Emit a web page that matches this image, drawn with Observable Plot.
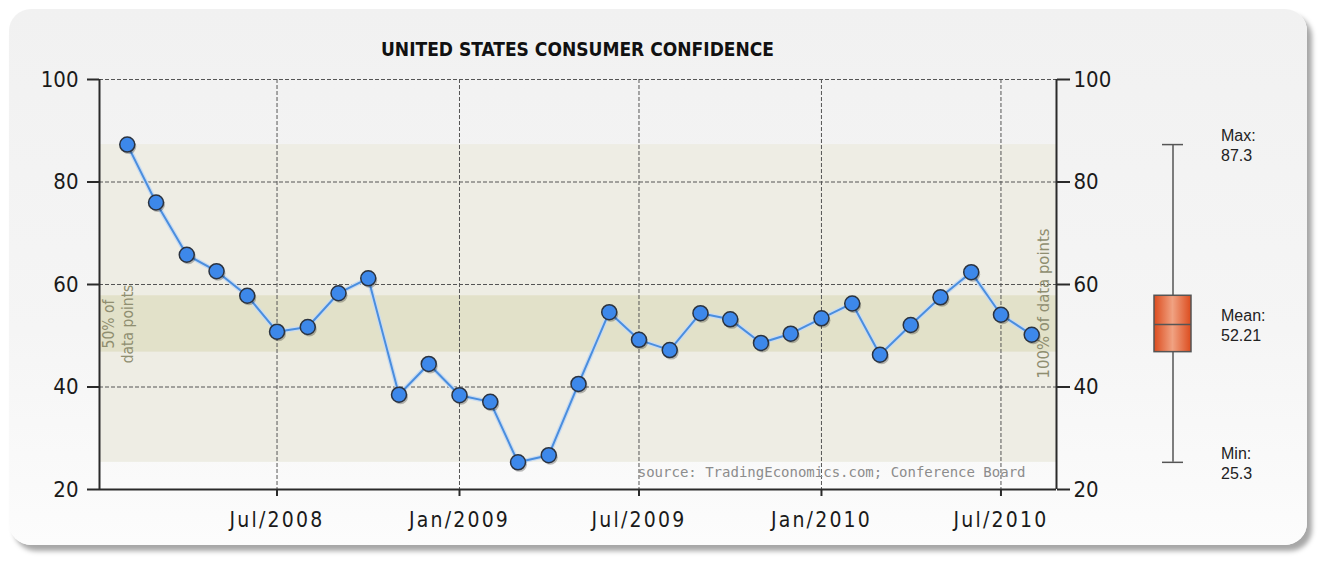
<!DOCTYPE html>
<html><head><meta charset="utf-8">
<script src="https://cdn.jsdelivr.net/npm/d3@7"></script>
<script src="https://cdn.jsdelivr.net/npm/@observablehq/plot@0.6"></script>
<style>
html,body{margin:0;padding:0;background:#fff;}
#wrap{position:relative;width:1323px;height:561px;overflow:hidden;}
#card{position:absolute;left:9px;top:9px;width:1298px;height:536px;border-radius:22px;background:linear-gradient(#f1f1f1,#f5f5f5 60%,#fcfcfc);box-shadow:5px 6px 5px rgba(0,0,0,0.35);}
#title{position:absolute;left:99px;width:957px;top:38px;text-align:center;font:bold 19px "DejaVu Sans Condensed",sans-serif;color:#111;}
#main,#box{position:absolute;top:0;}
#main{left:0;} #box{left:1100px;}
#main [aria-label="x-axis tick label"] text{letter-spacing:2.2px;}
</style></head><body>
<div id="wrap"><div id="card"></div><div id="title">UNITED STATES CONSUMER CONFIDENCE</div><div id="main"></div><div id="box"></div></div>
<script>
// ---- data ----
const months = ["2008-02","2008-03","2008-04","2008-05","2008-06","2008-07","2008-08","2008-09","2008-10","2008-11","2008-12",
  "2009-01","2009-02","2009-03","2009-04","2009-05","2009-06","2009-07","2009-08","2009-09","2009-10","2009-11","2009-12",
  "2010-01","2010-02","2010-03","2010-04","2010-05","2010-06","2010-07","2010-08"];
const values = [87.3, 76.0, 65.8, 62.6, 57.8, 50.8, 51.7, 58.3, 61.2, 38.5, 44.5,
  38.4, 37.1, 25.3, 26.7, 40.6, 54.6, 49.2, 47.2, 54.4, 53.2, 48.6, 50.4,
  53.4, 56.3, 46.3, 52.1, 57.5, 62.4, 54.1, 50.2];
const tickMonths = ["2008-07","2009-01","2009-07","2010-01","2010-07"];
const yTicks = [20, 40, 60, 80, 100];
const gridValues = [40, 60, 80, 100];
const statMin = 25.3, statQ1 = 46.8, statMean = 52.21, statQ3 = 57.8, statMax = 87.3;
const bandLabel50 = "50% of\ndata points";
const bandLabel100 = "100% of data points";
const sourceText = "source: TradingEconomics.com; Conference Board";
const boxKey = "Consumer Confidence";

// ---- build ----
const parse = d3.utcParse("%Y-%m");
const data = months.map((m, i) => ({date: parse(m), value: values[i]}));
const tickDates = tickMonths.map(parse);
const stats = {min: statMin, q1: statQ1, mean: statMean, q3: statQ3, max: statMax};
const xDomain = [new Date(Date.UTC(2008, 0, 4)), new Date(Date.UTC(2010, 7, 26))];
const fmt = d3.utcFormat("%b/%Y");
const axisColor = "#2a2a2a";
const axisFont = "'DejaVu Sans Condensed', sans-serif";

const main = Plot.plot({
  width: 1323, height: 561,
  marginLeft: 99, marginRight: 267, marginTop: 79, marginBottom: 72,
  style: {background: "transparent", fontFamily: axisFont, fontSize: "21px", color: "#1a1a1a", overflow: "visible"},
  x: {type: "utc", domain: xDomain, label: null},
  y: {domain: [20, 100], label: null},
  marks: [
    Plot.rectY([stats], {y1: "min", y2: "max", fill: "#eeede4"}),
    Plot.rectY([stats], {y1: "q1", y2: "q3", fill: "#e2e1c9"}),
    Plot.ruleY(gridValues, {stroke: "#555", strokeDasharray: "4,2", strokeWidth: 1}),
    Plot.ruleX(tickDates, {stroke: "#555", strokeDasharray: "4,2", strokeWidth: 1}),
    Plot.text([bandLabel50], {frameAnchor: "left", y: () => (statQ1 + statQ3) / 2, rotate: -90, dx: 18,
      textAnchor: "middle", lineAnchor: "middle",
      fontSize: 15.5, fontFamily: axisFont, fill: "#8f8e70", lineHeight: 1.25}),
    Plot.text([bandLabel100], {frameAnchor: "right", y: () => (statMin + statMax) / 2, rotate: -90, dx: -13,
      textAnchor: "middle", lineAnchor: "middle",
      fontSize: 16.5, fontFamily: axisFont, fill: "#8f8e70"}),
    Plot.text([sourceText], {frameAnchor: "bottom-right", textAnchor: "end", lineAnchor: "bottom", dx: -31, dy: -13,
      fontSize: 14, fontFamily: "'DejaVu Sans Mono', monospace", fill: "#8c8c8c"}),
    Plot.ruleX([xDomain[0], xDomain[1]], {stroke: axisColor, strokeWidth: 2}),
    Plot.ruleY([20], {stroke: axisColor, strokeWidth: 2}),
    Plot.axisY(yTicks, {anchor: "left", tickSize: 12, tickPadding: 9, strokeWidth: 2, stroke: axisColor, label: null,
      fontSize: 22, fontFamily: axisFont, fill: "#1a1a1a"}),
    Plot.axisY(yTicks, {anchor: "right", tickSize: 13, tickPadding: 4, strokeWidth: 2, stroke: axisColor, label: null,
      fontSize: 22, fontFamily: axisFont, fill: "#1a1a1a"}),
    Plot.axisX(tickDates, {anchor: "bottom", tickSize: 7, tickPadding: 16, strokeWidth: 2, stroke: axisColor, tickFormat: fmt, label: null,
      fontSize: 21, fontFamily: axisFont, fill: "#1a1a1a"}),
    Plot.lineY(data, {x: "date", y: "value", stroke: "#c8dbf1", strokeWidth: 4.5}),
    Plot.lineY(data, {x: "date", y: "value", stroke: "#4a8ede", strokeWidth: 2}),
    Plot.dot(data, {x: "date", y: "value", r: 7.5, fill: "#000", fillOpacity: 0.25, dx: 1.5, dy: 2}),
    Plot.dot(data, {x: "date", y: "value", r: 7.5, fill: "#3d88ea", stroke: "#2b3340", strokeWidth: 1.5})
  ]
});
document.getElementById("main").appendChild(main);

const boxLabels = [
  {t: "Max:\n" + statMax, v: statMax},
  {t: "Mean:\n" + statMean, v: statMean},
  {t: "Min:\n" + statMin, v: statMin}
];
const box = Plot.plot({
  width: 223, height: 561,
  marginLeft: 54, marginRight: 132, marginTop: 79, marginBottom: 72,
  style: {background: "transparent", overflow: "visible"},
  x: {type: "band", domain: [boxKey], padding: 0, axis: null},
  y: {domain: [20, 100], axis: null},
  marks: [
    Plot.ruleX([stats], {x: () => boxKey, y1: "min", y2: "max", stroke: "#555", strokeWidth: 1.5}),
    Plot.tickY([stats], {x: () => boxKey, y: "max", stroke: "#555", strokeWidth: 1.5, insetLeft: 8, insetRight: 8}),
    Plot.tickY([stats], {x: () => boxKey, y: "min", stroke: "#555", strokeWidth: 1.5, insetLeft: 8, insetRight: 8}),
    Plot.barY([stats], {x: () => boxKey, y1: "q1", y2: "q3", fill: "url(#boxgrad)", stroke: "#555", strokeWidth: 1.5}),
    Plot.tickY([stats], {x: () => boxKey, y: "mean", stroke: "#555", strokeWidth: 1.5}),
    Plot.text(boxLabels, {x: () => boxKey, y: "v", text: "t", textAnchor: "start", dx: 48, lineAnchor: "middle",
      lineHeight: 1.25, fontSize: 16, fontFamily: "'Liberation Sans', sans-serif", fill: "#222"})
  ]
});
const defs = d3.select(box).insert("defs", ":first-child");
const g = defs.append("linearGradient").attr("id", "boxgrad").attr("x1", "0").attr("x2", "1").attr("y1", "0").attr("y2", "0");
g.append("stop").attr("offset", "0").attr("stop-color", "#dc4c1e");
g.append("stop").attr("offset", "0.5").attr("stop-color", "#f0a282");
g.append("stop").attr("offset", "1").attr("stop-color", "#dc4c1e");
document.getElementById("box").appendChild(box);
</script>
</body></html>
